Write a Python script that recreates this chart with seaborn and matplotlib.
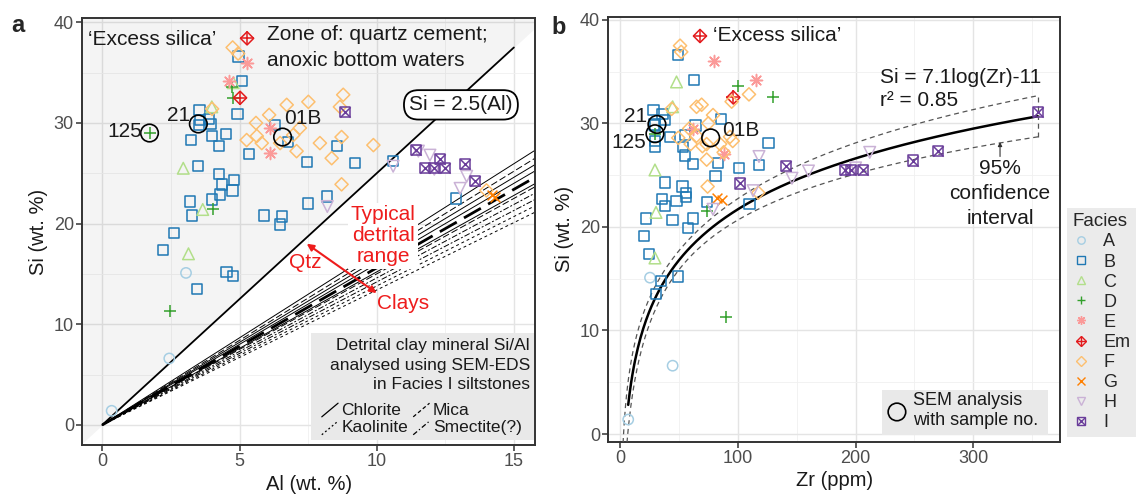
import numpy as np
import matplotlib
matplotlib.use("Agg")
import matplotlib.pyplot as plt
import seaborn as sns
from matplotlib.lines import Line2D
from matplotlib.patches import Rectangle
from matplotlib.ticker import MultipleLocator
from matplotlib.legend_handler import HandlerTuple

# ---------------- data ----------------
facies = ["A", "B", "C", "D", "E", "Em", "F", "G", "H", "I"]

A_al = [3.05, 2.44, 0.34]
A_si = [15.1, 6.6, 1.4]
A_zr = [25.5, 44.7, 7.0]

B_al = [4.96, 5.08, 3.54, 4.93, 3.89, 3.56, 3.97, 3.52, 6.29, 4.50, 3.99, 3.22, 6.78,
        4.26, 8.56, 5.35, 10.6, 7.45, 9.21, 3.48, 4.26, 4.80, 4.37, 4.74, 4.29, 8.18,
        12.9, 3.99, 3.20, 7.49, 3.28, 5.90, 6.54, 6.48, 2.60, 2.20, 4.53, 4.75, 3.46]
B_si = [36.6, 34.2, 31.3, 30.9, 30.4, 30.3, 29.9, 29.8, 29.8, 28.9, 28.7, 28.3, 28.1,
        27.7, 27.7, 26.9, 26.2, 26.1, 26.0, 25.7, 24.9, 24.3, 23.9, 23.3, 22.9, 22.7,
        22.5, 22.4, 22.2, 22.0, 20.8, 20.8, 20.7, 19.9, 19.1, 17.4, 15.2, 14.8, 13.5]
B_zr = [49.5, 63, 28.5, 36, 85.5, 38.2, 29, 64, 30, 55, 42.4, 29.5, 126,
        30, 53.7, 55, 83.5, 62, 118, 101, 81, 38.2, 53, 56, 56, 35.4,
        48, 73.6, 110, 38, 22, 62.2, 44.7, 58, 20.6, 24.9, 49.5, 34.8, 30.6]

C_al = [4.77, 3.99, 2.95, 3.66, 3.14]
C_si = [34.0, 31.6, 25.5, 21.4, 17.0]
C_zr = [48, 44.7, 29.7, 30.6, 29.7]

D_al = [1.72, 4.72, 4.77, 4.02, 2.47]
D_si = [29.0, 33.6, 32.5, 21.5, 11.3]
D_zr = [29.7, 100.5, 129.6, 73.6, 89.7]

E_al = [5.28, 4.61, 6.11, 6.10]
E_si = [36.0, 34.2, 29.5, 27.0]
E_zr = [79.8, 115.4, 62.2, 88.3]

Em_al = [5.02]
Em_si = [32.5]
Em_zr = [96.2]

F_al = [4.75, 4.95, 8.78, 7.51, 6.72, 8.66, 4.00, 6.08, 5.60, 7.20, 6.96, 5.63, 8.72,
        5.26, 5.81, 6.48, 7.93, 9.88, 7.08, 8.36, 8.72, 14.0]
F_si = [37.5, 36.9, 32.8, 32.1, 31.8, 31.6, 31.4, 30.8, 30.0, 29.5, 28.8, 28.7, 28.6,
        28.3, 28.0, 28.0, 28.0, 27.8, 27.2, 26.5, 23.9, 23.3]
F_zr = [51, 52, 109.5, 94.8, 69.3, 65, 43.9, 79, 75, 58.8, 65, 93.4, 49.5,
        95.7, 60, 85, 73.6, 70, 88, 73.6, 74.4, 117.4]

G_al = [14.2, 14.3]
G_si = [22.8, 22.6]
G_zr = [82, 87]

H_al = [11.52, 11.94, 10.6, 12.1, 13.28, 13.04, 8.2]
H_si = [27.2, 26.8, 25.7, 25.4, 24.7, 23.5, 21.7]
H_zr = [212, 118, 200, 160, 146, 113, 79]

I_al = [8.84, 11.43, 12.31, 13.22, 11.76, 12.1, 12.5, 13.58]
I_si = [31.1, 27.3, 26.4, 25.9, 25.5, 25.5, 25.5, 24.2]
I_zr = [355, 270, 249, 141, 191, 196, 206, 102]

sample_names = ["125", "21", "01B"]
sample_al = [1.72, 3.50, 6.57]
sample_si = [29.0, 29.9, 28.6]
sample_zr = [29.7, 31.4, 77.0]

# Si/Al slopes of detrital clay minerals (SEM-EDS)
chlorite_slopes = [1.73, 1.64, 1.60, 1.52]
mica_slopes = [1.68, 1.56, 1.50]
kaolinite_slopes = [1.38, 1.34]
smectite_slopes = [1.46, 1.42]
qtz_ratio = 2.5

# log fit Si = a*ln(Zr) + b and its 95% CI half-width parameters
fit_a, fit_b = 7.1, -11.0
ci_se0, ci_slope, ci_center = 0.9, 1.0, 4.1

# ---------------- style ----------------
sns.set_theme(style="white")
plt.rcParams['font.family'] = ['Liberation Sans', 'DejaVu Sans']

pal = sns.color_palette("Paired", 10)
fcol = dict(zip(facies, pal))

# (marker, open?, size)
mspec = {
    "A": [("o", True, 55)],
    "B": [("s", True, 55)],
    "C": [("^", True, 70)],
    "D": [("+", False, 75)],
    "E": [((8, 2, 0), False, 75)],
    "Em": [("D", True, 45), ("+", False, 90)],
    "F": [("D", True, 45)],
    "G": [("x", False, 50)],
    "H": [("v", True, 70)],
    "I": [("s", True, 55), ("x", False, 55)],
}
data = {
    "A": (A_al, A_si, A_zr), "B": (B_al, B_si, B_zr), "C": (C_al, C_si, C_zr),
    "D": (D_al, D_si, D_zr), "E": (E_al, E_si, E_zr), "Em": (Em_al, Em_si, Em_zr),
    "F": (F_al, F_si, F_zr), "G": (G_al, G_si, G_zr), "H": (H_al, H_si, H_zr),
    "I": (I_al, I_si, I_zr),
}

fig = plt.figure(figsize=(11.4, 4.94), dpi=100)
fig.patch.set_facecolor("white")


def px_axes(l, t, r, b):
    return fig.add_axes([l / 1140, 1 - b / 494, (r - l) / 1140, (b - t) / 494])


ax_a = px_axes(82.3, 18.3, 535, 445)
ax_b = px_axes(608.3, 16.7, 1060, 441.7)

TICK = '#4d4d4d'
DARK = '#333333'


def style_axes(ax, xmaj, xmin):
    ax.set_facecolor('white')
    ax.xaxis.set_major_locator(MultipleLocator(xmaj))
    ax.xaxis.set_minor_locator(MultipleLocator(xmin))
    ax.yaxis.set_major_locator(MultipleLocator(10))
    ax.yaxis.set_minor_locator(MultipleLocator(5))
    ax.grid(which='major', color='#e4e4e4', lw=1.0)
    ax.grid(which='minor', color='#f0f0f0', lw=0.6)
    ax.set_axisbelow(True)
    for sp in ax.spines.values():
        sp.set_visible(True)
        sp.set_color(DARK)
        sp.set_linewidth(1.4)
    ax.tick_params(which='major', length=4, width=1.1, color=DARK, labelsize=13,
                   labelcolor=TICK, pad=2, bottom=True, left=True)
    ax.tick_params(which='minor', length=0)


def draw_points(ax, xs, ys, col, spec, z=4):
    xs = np.asarray(xs, float)
    ys = np.asarray(ys, float)
    for m, is_open, s in spec:
        if is_open:
            sns.scatterplot(x=xs, y=ys, ax=ax, marker=m, s=s, facecolor='none',
                            edgecolor=col, linewidth=1.1, zorder=z, legend=False)
        else:
            sns.scatterplot(x=xs, y=ys, ax=ax, marker=m, s=s, color=col,
                            linewidth=1.1, zorder=z, legend=False)


# ================= panel a =================
ax = ax_a
style_axes(ax, 5, 2.5)
ax.set_xlim(-0.73, 15.77)
ax.set_ylim(-2.0, 40.4)

xs_fill = np.linspace(-1, 16.5, 50)
ax.fill_between(xs_fill, qtz_ratio * xs_fill, 45, color='black', alpha=0.045, lw=0, zorder=1)

xl = np.array([0.0, 16.5])
for k in chlorite_slopes:
    ax.plot(xl, k * xl, color='black', lw=0.7, zorder=2)
for i, k in enumerate(mica_slopes):
    ax.plot(xl, k * xl, color='black', lw=2.0 if i == 1 else 0.7, ls=(0, (7, 3)), zorder=2)
for k in kaolinite_slopes:
    ax.plot(xl, k * xl, color='black', lw=0.7, ls=(0, (3, 3)), zorder=2)
for k in smectite_slopes:
    ax.plot(xl, k * xl, color='black', lw=0.7, ls=(0, (6, 2, 2, 2)), zorder=2)

xq = np.array([0.0, 15.0])
ax.plot(xq, qtz_ratio * xq, color='black', lw=1.3, zorder=2)

for f in facies:
    al, si, zr = data[f]
    draw_points(ax, al, si, fcol[f], mspec[f])

sns.scatterplot(x=sample_al, y=sample_si, ax=ax, marker='o', s=160, facecolor='none',
                edgecolor='black', linewidth=1.2, zorder=6, legend=False)
offs_a = {"125": (-5, 1, 'right'), "21": (-6, 6, 'right'), "01B": (1, 13, 'left')}
for n, x, y in zip(sample_names, sample_al, sample_si):
    dx, dy, ha = offs_a[n]
    ax.annotate(n, (x, y), xytext=(dx, dy), textcoords='offset points', ha=ha,
                va='center', fontsize=15, color='#1a1a1a', zorder=7)

ax.text(0.0126, 0.951, "\u2018Excess silica\u2019", transform=ax.transAxes, fontsize=15,
        ha='left', va='center', color='#1a1a1a')
ax.scatter([0.364], [0.953], transform=ax.transAxes, marker='D', s=45, facecolor='none',
           edgecolor=fcol["Em"], linewidth=1.1, zorder=6)
ax.scatter([0.364], [0.953], transform=ax.transAxes, marker='+', s=90,
           color=fcol["Em"], linewidth=1.1, zorder=6)
ax.text(0.408, 0.961, "Zone of: quartz cement;", transform=ax.transAxes, fontsize=15,
        ha='left', va='center', color='#1a1a1a')
ax.text(0.408, 0.900, "anoxic bottom waters", transform=ax.transAxes, fontsize=15,
        ha='left', va='center', color='#1a1a1a')

ax.text(13.07, 31.8, "Si = 2.5(Al)", ha='center', va='center', fontsize=15, color='#1a1a1a',
        zorder=7, bbox=dict(boxstyle='round,pad=0.25,rounding_size=0.7', fc='white',
                            ec='black', lw=1.3))

RED = '#ee1c1c'
ax.text(10.23, 18.8, "Typical\ndetrital\nrange", ha='center', va='center', fontsize=15,
        color=RED, zorder=7, linespacing=1.15,
        bbox=dict(boxstyle='square,pad=0.1', fc='white', ec='none'))
ax.text(7.39, 16.1, "Qtz", ha='center', va='center', fontsize=15, color=RED, zorder=7)
ax.text(10.96, 12.1, "Clays", ha='center', va='center', fontsize=15, color=RED, zorder=7)
ax.annotate('', xy=(7.45, 18.0), xytext=(10.0, 13.1),
            arrowprops=dict(arrowstyle='<|-|>', color=RED, lw=1.5, mutation_scale=10,
                            shrinkA=0, shrinkB=0), zorder=7)

# inner legend box (clay minerals)
ax.add_patch(Rectangle((0.505, 0.012), 0.493, 0.250, transform=ax.transAxes,
                       fc='#e9e9e9', ec='none', zorder=5))
for txt, yv in zip(["Detrital clay mineral Si/Al", "analysed using SEM-EDS",
                    "in Facies I siltstones"], [0.234, 0.187, 0.141]):
    ax.text(0.989, yv, txt, transform=ax.transAxes, ha='right', va='center',
            fontsize=12.5, color='#1a1a1a', zorder=6)
keys = [("Chlorite", '-', 0.529, 0.082), ("Mica", (0, (3, 2)), 0.731, 0.082),
        ("Kaolinite", (0, (1.5, 2)), 0.529, 0.040), ("Smectite(?)", (0, (4, 2, 1, 2)), 0.731, 0.040)]
for name, ls, kx, ky in keys:
    ax.add_line(Line2D([kx, kx + 0.036], [ky - 0.016, ky + 0.016], transform=ax.transAxes,
                       color='black', lw=0.9, ls=ls, zorder=6))
    ax.text(kx + 0.043, ky, name, transform=ax.transAxes, ha='left', va='center',
            fontsize=12.5, color='#1a1a1a', zorder=6)

ax.set_xlabel("Al (wt. %)", fontsize=14.5, color='#1a1a1a', labelpad=3)
ax.set_ylabel("Si (wt. %)", fontsize=14.5, color='#1a1a1a', labelpad=4)

# ================= panel b =================
ax = ax_b
style_axes(ax, 100, 50)
ax.set_xlim(-9.9, 373.5)
ax.set_ylim(-0.74, 40.3)

all_zr = np.concatenate([np.asarray(data[f][2], float) for f in facies])
zr_min, zr_max = all_zr.min(), all_zr.max()
zz = np.linspace(zr_min, zr_max, 300)
ax.plot(zz, fit_a * np.log(zz) + fit_b, color='black', lw=1.8, zorder=3)
zc = np.linspace(2.0, zr_max, 400)
half = np.sqrt(ci_se0 ** 2 + (ci_slope * (np.log(zc) - ci_center)) ** 2)
fitc = fit_a * np.log(zc) + fit_b
ax.plot(zc, fitc + half, color='#555555', lw=0.9, ls=(0, (4, 3)), zorder=3)
ax.plot(zc, fitc - half, color='#555555', lw=0.9, ls=(0, (4, 3)), zorder=3)
ax.plot([zr_max, zr_max], [fitc[-1] - half[-1], fitc[-1] + half[-1]], color='#555555',
        lw=0.9, ls=(0, (4, 3)), zorder=3)

for f in facies:
    al, si, zr = data[f]
    draw_points(ax, zr, si, fcol[f], mspec[f])

sns.scatterplot(x=sample_zr, y=sample_si, ax=ax, marker='o', s=160, facecolor='none',
                edgecolor='black', linewidth=1.2, zorder=6, legend=False)
offs_b = {"125": (-6, -6, 'right'), "21": (-7, 6, 'right'), "01B": (8, 5, 'left')}
for n, x, y in zip(sample_names, sample_zr, sample_si):
    dx, dy, ha = offs_b[n]
    ax.annotate(n, (x, y), xytext=(dx, dy), textcoords='offset points', ha=ha,
                va='center', fontsize=15, color='#1a1a1a', zorder=7)

ax.scatter([0.203], [0.9546], transform=ax.transAxes, marker='D', s=45, facecolor='none',
           edgecolor=fcol["Em"], linewidth=1.1, zorder=6)
ax.scatter([0.203], [0.9546], transform=ax.transAxes, marker='+', s=90,
           color=fcol["Em"], linewidth=1.1, zorder=6)
ax.text(0.232, 0.9546, "\u2018Excess silica\u2019", transform=ax.transAxes, fontsize=15,
        ha='left', va='center', color='#1a1a1a')
ax.text(0.601, 0.858, "Si = 7.1log(Zr)-11", transform=ax.transAxes, fontsize=15,
        ha='left', va='center', color='#1a1a1a')
ax.text(0.601, 0.804, "r\u00b2 = 0.85", transform=ax.transAxes, fontsize=15,
        ha='left', va='center', color='#1a1a1a')
for txt, yv in zip(["95%", "confidence", "interval"], [0.644, 0.585, 0.526]):
    ax.text(0.867, yv, txt, transform=ax.transAxes, fontsize=15, ha='center',
            va='center', color='#1a1a1a')
ax.annotate('', xy=(322.6, 28.2), xytext=(322.6, 26.8),
            arrowprops=dict(arrowstyle='-|>', color='#333333', lw=0.8, mutation_scale=6,
                            shrinkA=0, shrinkB=0))

ax.add_patch(Rectangle((0.606, 0.016), 0.367, 0.106, transform=ax.transAxes,
                       fc='#e9e9e9', ec='none', zorder=5))
ax.scatter([0.639], [0.070], transform=ax.transAxes, marker='o', s=160, facecolor='none',
           edgecolor='black', linewidth=1.2, zorder=6)
ax.text(0.675, 0.096, "SEM analysis", transform=ax.transAxes, fontsize=13,
        ha='left', va='center', color='#1a1a1a', zorder=6)
ax.text(0.675, 0.049, "with sample no.", transform=ax.transAxes, fontsize=13,
        ha='left', va='center', color='#1a1a1a', zorder=6)

ax.set_xlabel("Zr (ppm)", fontsize=14.5, color='#1a1a1a', labelpad=3)
ax.set_ylabel("Si (wt. %)", fontsize=14.5, color='#1a1a1a', labelpad=4)

# ================= facies legend =================
handles = []
for f in facies:
    parts = []
    for m, is_open, s in mspec[f]:
        ms = np.sqrt(s) * 0.72
        if is_open:
            parts.append(Line2D([], [], ls='none', marker=m, markersize=ms,
                                markerfacecolor='none', markeredgecolor=fcol[f],
                                markeredgewidth=1.0))
        else:
            parts.append(Line2D([], [], ls='none', marker=m, markersize=ms,
                                color=fcol[f], markeredgewidth=1.0))
    handles.append(tuple(parts) if len(parts) > 1 else parts[0])

leg = fig.legend(handles, facies, title="Facies", loc='upper left',
                 bbox_to_anchor=(1067 / 1140, 1 - 208 / 494), frameon=True, fancybox=False,
                 facecolor='#ebebeb', edgecolor='none', framealpha=1, fontsize=13,
                 title_fontsize=13.5, labelspacing=0.17, handlelength=1.0,
                 handletextpad=0.7, borderpad=0.3, borderaxespad=0, alignment='left',
                 handler_map={tuple: HandlerTuple(ndivide=1)})

fig.text(18 / 1140, 1 - 25 / 494, "a", fontsize=17, fontweight='bold', ha='center', va='center')
fig.text(559 / 1140, 1 - 27 / 494, "b", fontsize=17, fontweight='bold', ha='center', va='center')

fig.savefig("out.png", dpi=100, facecolor='white')
